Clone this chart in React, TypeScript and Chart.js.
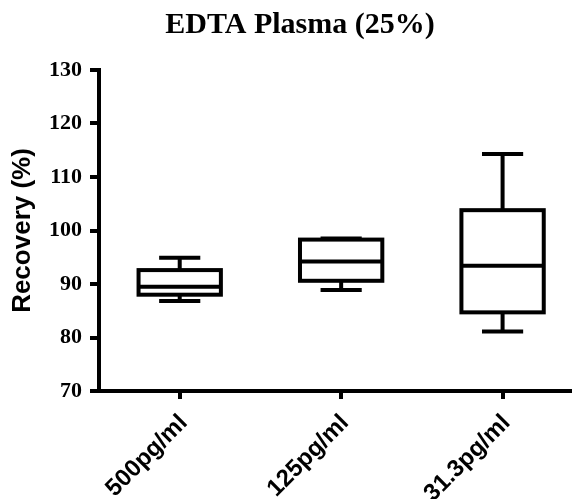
import React, { useEffect, useRef } from "react";
import { Chart, registerables } from "chart.js";

Chart.register(...registerables);

const chartTitle = "EDTA Plasma (25%)";
const yAxisTitle = "Recovery (%)";
const categories = ["500pg/ml", "125pg/ml", "31.3pg/ml"];
const positions = [1, 2, 3];
const whiskerMin = [86.8, 88.9, 81.1];
const q1 = [88.0, 90.6, 84.7];
const median = [89.5, 94.2, 93.4];
const q3 = [92.6, 98.3, 103.8];
const whiskerMax = [94.9, 98.5, 114.3];
const yMin = 70;
const yMax = 130;
const yStep = 10;

const boxPlugin = {
  id: "boxWhiskers",
  afterDatasetsDraw(chart: any) {
    const meta = chart.getDatasetMeta(0);
    const ys = chart.scales.y;
    const ctx = chart.ctx;
    ctx.save();
    ctx.strokeStyle = "#000";
    ctx.lineWidth = 4;
    ctx.lineCap = "butt";
    ctx.lineJoin = "miter";
    meta.data.forEach((el: any, i: number) => {
      const x = el.x;
      const w = el.width;
      const top = ys.getPixelForValue(q3[i]);
      const bot = ys.getPixelForValue(q1[i]);
      const med = ys.getPixelForValue(median[i]);
      const wmax = ys.getPixelForValue(whiskerMax[i]);
      const wmin = ys.getPixelForValue(whiskerMin[i]);
      const cap = w * 0.25;
      ctx.strokeRect(x - w / 2, top, w, bot - top);
      ctx.beginPath();
      ctx.moveTo(x - w / 2, med);
      ctx.lineTo(x + w / 2, med);
      ctx.moveTo(x, top);
      ctx.lineTo(x, wmax);
      ctx.moveTo(x - cap, wmax);
      ctx.lineTo(x + cap, wmax);
      ctx.moveTo(x, bot);
      ctx.lineTo(x, wmin);
      ctx.moveTo(x - cap, wmin);
      ctx.lineTo(x + cap, wmin);
      ctx.stroke();
    });
    ctx.restore();
  },
};

const titlePlugin = {
  id: "gpTitle",
  afterDraw(chart: any) {
    const ctx = chart.ctx;
    ctx.save();
    ctx.fillStyle = "#000";
    ctx.font = "bold 30px 'Liberation Serif'";
    ctx.textAlign = "center";
    ctx.textBaseline = "alphabetic";
    ctx.fillText(chartTitle, 300, 33);
    ctx.restore();
  },
};

export default function App() {
  const canvasRef = useRef<HTMLCanvasElement | null>(null);

  useEffect(() => {
    if (!canvasRef.current) return;
    const chart = new Chart(canvasRef.current, {
      type: "bar",
      data: {
        datasets: [
          {
            label: "Recovery",
            data: positions.map((p, i) => ({ x: p, y: [q1[i], q3[i]] })) as any,
            backgroundColor: "rgba(0,0,0,0)",
            borderWidth: 0,
            categoryPercentage: 1,
            barPercentage: 0.51,
          },
        ],
      },
      options: {
        animation: false,
        responsive: false,
        maintainAspectRatio: false,
        layout: { padding: { left: 0, right: 0, top: 70, bottom: 0 } },
        plugins: {
          legend: { display: false },
          tooltip: { enabled: false },
          title: { display: false },
        },
        scales: {
          x: {
            type: "linear",
            offset: false,
            min: 0.5,
            max: 3.43,
            afterBuildTicks: (axis: any) => {
              axis.ticks = positions.map((v) => ({ value: v }));
            },
            afterFit: (axis: any) => {
              axis.height = 108;
            },
            grid: {
              display: true,
              offset: false,
              drawOnChartArea: false,
              drawTicks: true,
              tickLength: 8,
              lineWidth: 4,
              color: "#000",
            },
            border: { display: true, color: "#000", width: 4 },
            ticks: {
              autoSkip: false,
              minRotation: 45,
              maxRotation: 45,
              padding: 10,
              labelOffset: 4,
              color: "#000",
              font: { family: "Liberation Sans", size: 24, weight: "bold" },
              callback: (v: any) => {
                const idx = positions.indexOf(Number(v));
                return idx >= 0 ? categories[idx] : "";
              },
            },
          },
          y: {
            type: "linear",
            min: yMin,
            max: yMax,
            afterFit: (axis: any) => {
              axis.width = 99;
            },
            grid: {
              display: true,
              drawOnChartArea: false,
              drawTicks: true,
              tickLength: 9,
              lineWidth: 4,
              color: "#000",
            },
            border: { display: true, color: "#000", width: 4 },
            ticks: {
              stepSize: yStep,
              padding: 8,
              color: "#000",
              font: { family: "Liberation Serif", size: 22, weight: "bold" },
            },
            title: {
              display: true,
              text: yAxisTitle,
              color: "#000",
              font: { family: "Liberation Sans", size: 26, weight: "bold" },
              padding: { top: 7, bottom: 0 },
            },
          },
        },
      },
      plugins: [boxPlugin, titlePlugin],
    });
    return () => chart.destroy();
  }, []);

  return (
    <div
      style={{
        position: "fixed",
        left: 0,
        top: 0,
        width: 572,
        height: 499,
        background: "#fff",
      }}
    >
      <canvas ref={canvasRef} width={572} height={499} style={{ width: 572, height: 499 }} />
    </div>
  );
}
